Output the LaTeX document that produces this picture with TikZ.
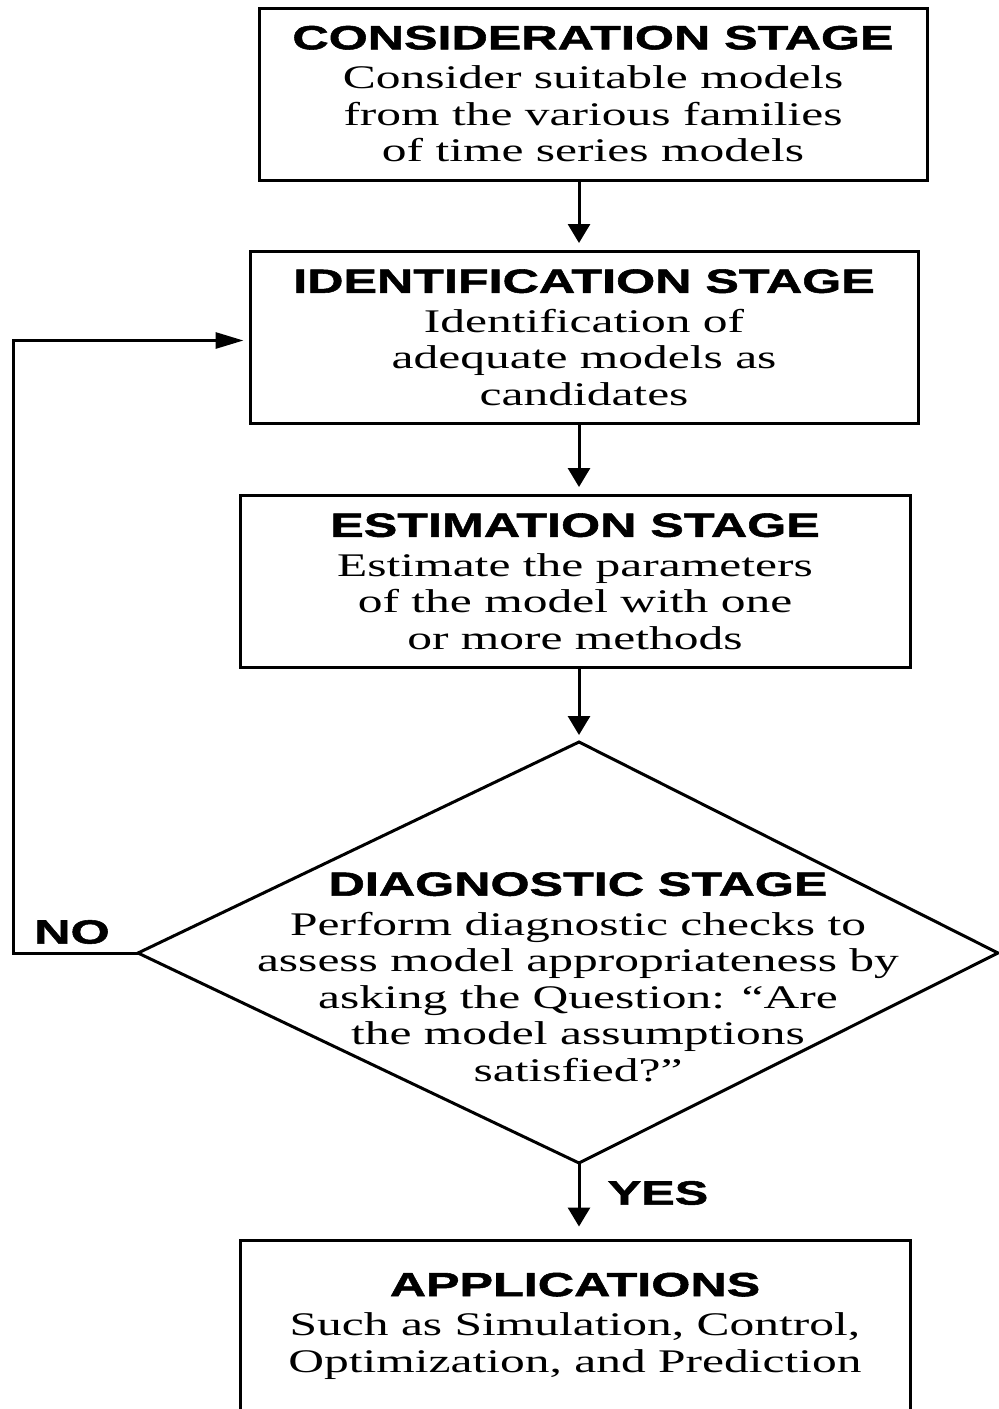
\documentclass[tikz,border=0pt]{standalone}
\usepackage{fontspec}
\setmainfont{Liberation Serif}[FakeStretch=1.5]
\newfontfamily\headfont{Liberation Sans}[FakeStretch=1.5, BoldFeatures={FakeBold=1.6}]
\usetikzlibrary{positioning,arrows.meta,calc}
\newcommand{\bodytext}{\fontsize{33}{36.5}\selectfont}
\newcommand{\headtext}{\headfont\bfseries\fontsize{33.5}{36.5}\selectfont}
\newcommand{\stagetitle}[1]{{\headtext #1}\\[3pt]}
\tikzset{
   stagebox/.style = {%
    shape=rectangle,
    draw,
    line width=3pt,
    minimum width=668pt,
    minimum height=172pt,
    inner sep=0pt,
    align=center,
    font=\bodytext},
   stagetext/.style = {%
    inner sep=0pt,
    align=center,
    font=\bodytext},
 arrow/.style = {%
    line width=3pt,
    -{Triangle[length=19pt,width=22pt]},
    shorten >=7pt},
 backarrow/.style = {%
    line width=3pt,
    -{Triangle[length=28pt,width=16pt]},
    shorten >=5pt},
 answer/.style = {%
    inner sep=0pt,
    font=\headtext},
    }

\begin{document}
\begin{tikzpicture}[x=1pt,y=-1pt]
    \useasboundingbox (0,0) rectangle (999,1409);
    % stages
    \node[stagebox] (consider) at (593,94)
        {\stagetitle{CONSIDERATION STAGE}Consider suitable models\\ from the various families\\ of time series models};
    \node[stagebox] (identify) at (584,337.5)
        {\stagetitle{IDENTIFICATION STAGE}Identification of\\ adequate models as\\ candidates};
    \node[stagebox, minimum width=670pt] (estimate) at (575,581.5)
        {\stagetitle{ESTIMATION STAGE}Estimate the parameters\\ of the model with one\\ or more methods};
    \node[stagebox, minimum width=670pt] (apply) at (575,1326)
        {\stagetitle{APPLICATIONS}Such as Simulation, Control,\\ Optimization, and Prediction};
    % decision
    \coordinate (dtop)   at (579,742);
    \coordinate (dright) at (998,953);
    \coordinate (dbot)   at (579,1163);
    \coordinate (dleft)  at (138,953);
    \draw[line width=3pt] (dtop) -- (dright) -- (dbot) -- (dleft) -- cycle;
    \node[stagetext] (diagnostic) at (578,977)
        {\stagetitle{DIAGNOSTIC STAGE}Perform diagnostic checks to\\ assess model appropriateness by\\ asking the Question: “Are\\ the model assumptions\\ satisfied?”};
    % flow
    \draw[arrow] (consider.south -| dtop) -- (identify.north -| dtop);
    \draw[arrow] (identify.south -| dtop) -- (estimate.north -| dtop);
    \draw[arrow] (estimate.south -| dtop) -- (dtop);
    \draw[arrow, shorten >=12pt] (dbot) -- (apply.north -| dbot);
    \coordinate (noturn) at (13,953);
    \draw[backarrow] (dleft) -- (noturn) |- ([yshift=-3pt]identify.west);
    \node[answer] (no) at (72,932) {NO};
    \node[answer] (yes) at (658,1193) {YES};
\end{tikzpicture}
\end{document}
